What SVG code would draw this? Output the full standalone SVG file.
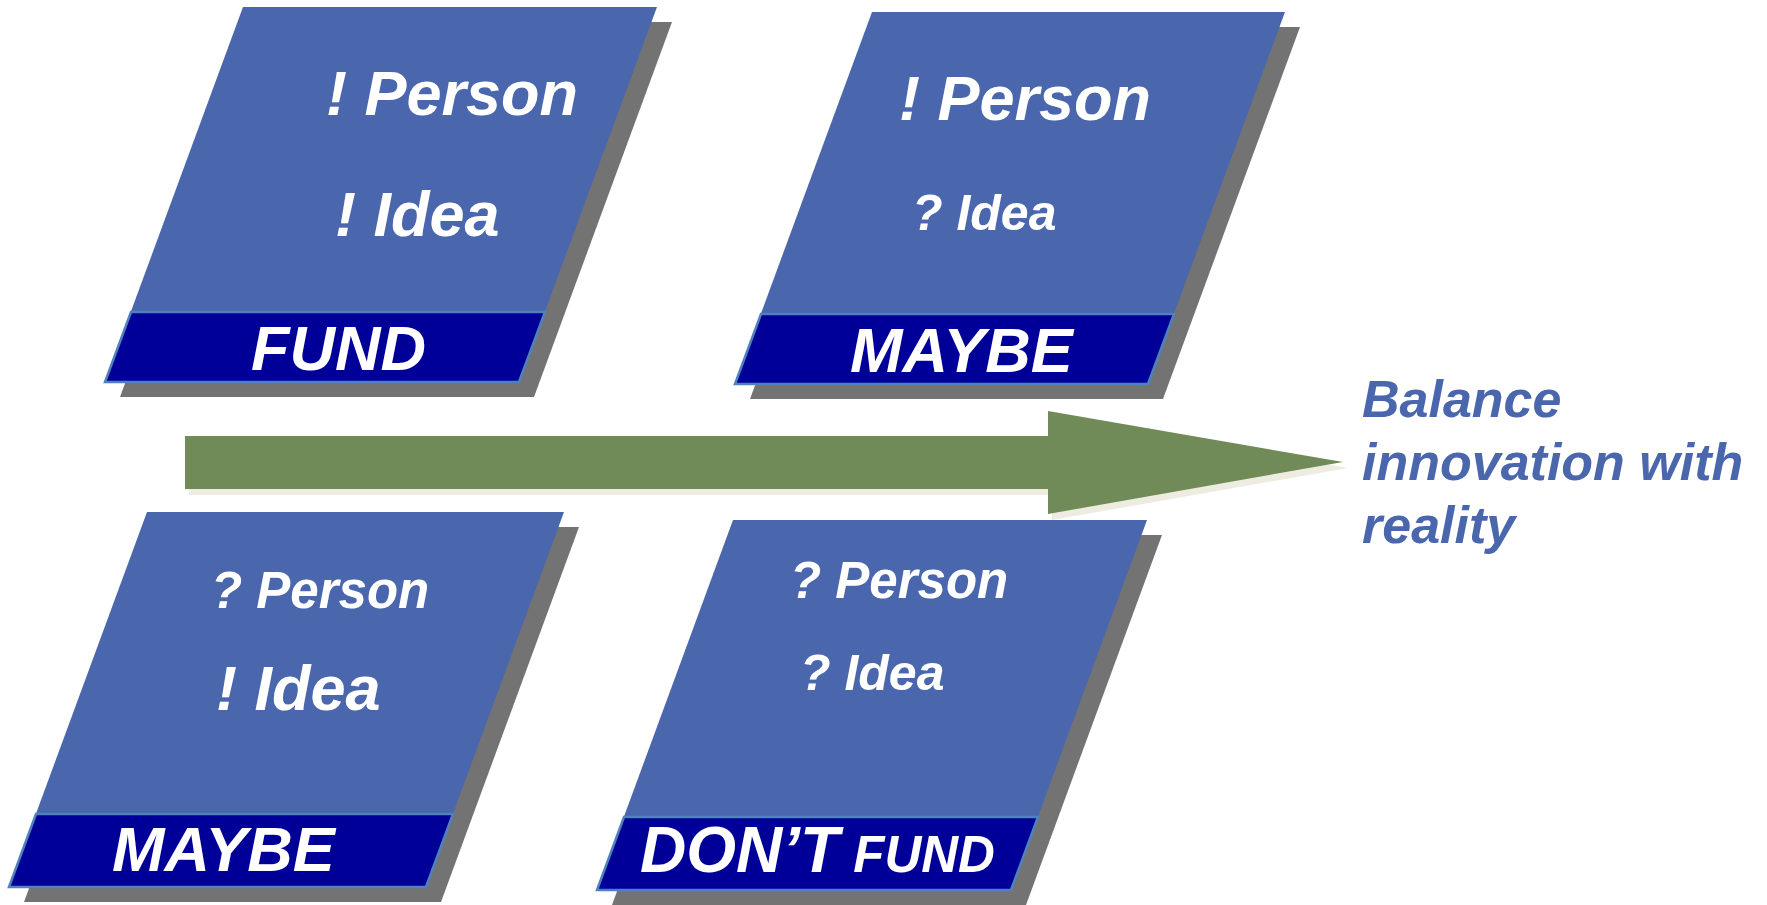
<svg xmlns="http://www.w3.org/2000/svg" width="1767" height="905" viewBox="0 0 1767 905">
<style>
.sh{fill:#737373}
.main{fill:#4A67AD}
.band{fill:#000099;stroke:#4F81BD;stroke-width:2.5}
.t{font-family:"Liberation Sans",Arial,sans-serif;font-weight:bold;font-style:italic;fill:#FFFFFF}
.side{font-family:"Liberation Sans",Arial,sans-serif;font-weight:bold;font-style:italic;fill:#4A66AC;font-size:52px}
</style>
<rect x="0" y="0" width="1767" height="905" fill="#FFFFFF"/>
<g id="connectors">
<polygon points="189,442 1052,442 1052,417 1348,468 1052,520 1052,495 189,495" fill="#EEECE1"/>
<polygon points="185,436 1048,436 1048,411 1343,462 1048,514 1048,489 185,489" fill="#708B58"/>
</g>
<g id="node-fund">
<polygon class="sh" points="258,22 672,22 534,397 120,397"/>
<polygon class="main" points="243,7 657,7 519,382 105,382"/>
<polygon class="band" points="131,312 545,312 519,382 105,382"/>
<text class="t" x="326" y="115" font-size="63">! Person</text>
<text class="t" x="335" y="236" font-size="63">! Idea</text>
<text class="t" x="251" y="370" font-size="63">FUND</text>
</g>
<g id="node-maybe-top">
<polygon class="sh" points="887,27 1300,27 1163,399 750,399"/>
<polygon class="main" points="872,12 1285,12 1148,384 735,384"/>
<polygon class="band" points="761,314 1174,314 1148,384 735,384"/>
<text class="t" x="899" y="120" font-size="63">! Person</text>
<text class="t" x="912" y="230" font-size="50">? Idea</text>
<text class="t" x="850" y="372" font-size="63">MAYBE</text>
</g>
<g id="node-maybe-bottom">
<polygon class="sh" points="162,527 579,527 441,902 24,902"/>
<polygon class="main" points="147,512 564,512 426,887 9,887"/>
<polygon class="band" points="36,814 453,814 426,887 9,887"/>
<text class="t" x="211" y="608" font-size="51">? Person</text>
<text class="t" x="216" y="710" font-size="63">! Idea</text>
<text class="t" x="112" y="871" font-size="63">MAYBE</text>
</g>
<g id="node-dont-fund">
<polygon class="sh" points="748,535 1162,535 1026,905 612,905"/>
<polygon class="main" points="733,520 1147,520 1011,890 597,890"/>
<polygon class="band" points="624,817 1038,817 1011,890 597,890"/>
<text class="t" x="790" y="598" font-size="51">? Person</text>
<text class="t" x="800" y="690" font-size="50">? Idea</text>
<text class="t" x="640" y="872"><tspan font-size="64">DON’T</tspan><tspan font-size="51"> FUND</tspan></text>
</g>
<g id="label-balance">
<text class="side" x="1362" y="417">Balance</text>
<text class="side" x="1362" y="480">innovation with</text>
<text class="side" x="1362" y="543">reality</text>
</g>
</svg>
